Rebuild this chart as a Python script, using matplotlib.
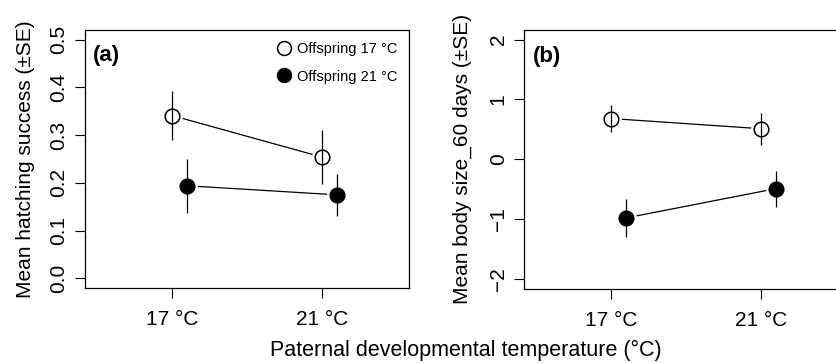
import matplotlib.pyplot as plt
from matplotlib.lines import Line2D
import numpy as np

plt.rcParams['font.family'] = ['Liberation Sans', 'DejaVu Sans']

# paternal temperature groups
groups = ['17 °C', '21 °C']
xpos = np.array([1, 2])
offset = 0.1

# (a) mean hatching success
hatch_17 = [0.341, 0.254]
hatch_17_se = [0.051, 0.056]
hatch_21 = [0.194, 0.175]
hatch_21_se = [0.057, 0.044]

# (b) mean body size at 60 days
size_17 = [0.68, 0.51]
size_17_se = [0.225, 0.265]
size_21 = [-0.98, -0.49]
size_21_se = [0.32, 0.30]

yticks_a = [0.0, 0.1, 0.2, 0.3, 0.4, 0.5]
yticks_b = [-2, -1, 0, 1, 2]

W, H = 837, 363
fig = plt.figure(figsize=(W / 100, H / 100), dpi=100)
ax_a = fig.add_axes([85 / W, 1 - 288 / H, 324 / W, 258 / H])
ax_b = fig.add_axes([524.3 / W, 1 - 288.5 / H, 324 / W, 258.5 / H])


def draw_series(ax, x, y, se, filled):
    ax.plot(x, y, color='black', lw=0.9, zorder=1)
    ax.plot(x, y, 'o', ms=15, mfc='white', mec='none', zorder=2)
    ax.errorbar(x, y, yerr=se, fmt='none', ecolor='black', elinewidth=0.9, zorder=3)
    ax.plot(x, y, 'o', ms=10.5, mec='black', mew=1.1,
            mfc='black' if filled else 'none', zorder=4)


def style(ax, yticks, ylabel, tag, lpad):
    ax.set_xlim(0.42, 2.58)
    ext = (yticks[-1] - yticks[0]) * 0.04
    ax.set_ylim(yticks[0] - ext, yticks[-1] + ext)
    ax.set_xticks(xpos)
    ax.set_xticklabels(groups)
    ax.set_yticks(yticks)
    ax.set_yticklabels([str(t).replace('-', '\u2212') for t in yticks],
                       rotation=90, va='center')
    ax.tick_params(direction='out', length=7, width=0.8, labelsize=15, pad=5)
    ax.tick_params(axis='x', pad=9)
    for s in ax.spines.values():
        s.set_linewidth(0.9)
    ax.set_ylabel(ylabel, fontsize=15, labelpad=lpad)
    ax.text(0.025, 0.94, tag, transform=ax.transAxes, fontsize=16,
            fontweight='bold', va='top', ha='left')


draw_series(ax_a, xpos, hatch_17, hatch_17_se, False)
draw_series(ax_a, xpos + offset, hatch_21, hatch_21_se, True)
style(ax_a, yticks_a, 'Mean hatching success (±SE)', '(a)', 10)
ax_a.set_yticklabels(['0.0', '0.1', '0.2', '0.3', '0.4', '0.5'])

draw_series(ax_b, xpos, size_17, size_17_se, False)
draw_series(ax_b, xpos + offset, size_21, size_21_se, True)
style(ax_b, yticks_b, 'Mean body size_60 days (±SE)', '(b)', 12)

handles = [Line2D([], [], ls='none', marker='o', ms=10, mec='black', mew=1.1, mfc='none'),
           Line2D([], [], ls='none', marker='o', ms=10, mec='black', mew=1.1, mfc='black')]
ax_a.legend(handles, ['Offspring 17 °C', 'Offspring 21 °C'], loc='upper right',
            bbox_to_anchor=(1.0, 1.0), frameon=False, fontsize=10.5,
            handlelength=0.8, handletextpad=0.5, labelspacing=0.95,
            borderaxespad=0.4)

fig.text(466 / W, 1 - 350 / H, 'Paternal developmental temperature (°C)',
         ha='center', va='center', fontsize=15.5)

fig.savefig('out.png', dpi=100)
